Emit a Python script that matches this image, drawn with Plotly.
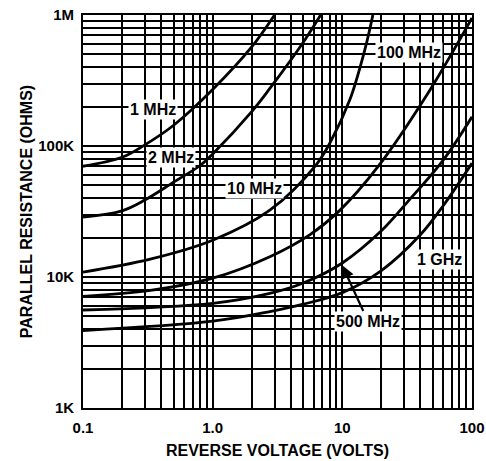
import plotly.graph_objects as go

# ---- data ----
v_1mhz = [0.1, 0.2, 0.3, 0.5, 1.0, 2.0, 3.0]
r_1mhz = [70e3, 82e3, 102e3, 144e3, 270e3, 570e3, 1000e3]

v_2mhz = [0.1, 0.2, 0.3, 0.5, 0.8, 1.0, 2.0, 2.76, 5.0, 6.8]
r_2mhz = [28.7e3, 32e3, 38.7e3, 53e3, 71e3, 87e3, 183e3, 275e3, 620e3, 1000e3]

v_10mhz = [0.1, 0.33, 1.0, 2.76, 6.26, 8.0, 11.4, 14.9, 17.2]
r_10mhz = [10.9e3, 13.7e3, 19.1e3, 32.4e3, 71.6e3, 105e3, 224e3, 541e3, 1000e3]

v_100mhz = [0.1, 0.33, 1.0, 2.76, 5.6, 9.6, 18.5, 47.3, 100]
r_100mhz = [7.1e3, 7.9e3, 9.8e3, 14.3e3, 21e3, 32.4e3, 68e3, 267e3, 950e3]

v_500mhz = [0.1, 1.0, 2.76, 5.0, 10.0, 20.0, 31.5, 60.0, 100]
r_500mhz = [5.6e3, 6.3e3, 7.5e3, 9.0e3, 12.8e3, 22.5e3, 37e3, 78e3, 167e3]

v_1ghz = [0.1, 1.0, 2.76, 5.0, 10.0, 20.0, 40.0, 60.0, 100]
r_1ghz = [3.9e3, 4.6e3, 5.45e3, 6.2e3, 7.6e3, 11.2e3, 21e3, 35e3, 74e3]

x_tickvals = [0.1, 1, 10, 100]
x_ticktext = ["0.1", "1.0", "10", "100"]
y_tickvals = [1e3, 1e4, 1e5, 1e6]
y_ticktext = ["1K", "10K", "100K", "1M"]

FONT = "Liberation Sans"

series = [
    ("1 MHz", v_1mhz, r_1mhz),
    ("2 MHz", v_2mhz, r_2mhz),
    ("10 MHz", v_10mhz, r_10mhz),
    ("100 MHz", v_100mhz, r_100mhz),
    ("500 MHz", v_500mhz, r_500mhz),
    ("1 GHz", v_1ghz, r_1ghz),
]

fig = go.Figure()
for name, v, r in series:
    fig.add_trace(go.Scatter(
        x=v, y=r, mode="lines", name=name,
        line=dict(color="black", width=2.8, shape="spline", smoothing=1.0),
        showlegend=False, cliponaxis=True,
    ))

lab_font = dict(family=FONT, size=16, color="black", weight="bold")

# curve labels (positions in log10 data units)
labels = [
    ("1 MHz", -0.460, 5.282),
    ("2 MHz", -0.318, 4.916),
    ("10 MHz", 0.326, 4.672),
    ("100 MHz", 1.513, 5.710),
    ("1 GHz", 1.753, 4.137),
]
for text, lx, ly in labels:
    fig.add_annotation(
        x=lx, y=ly, xref="x", yref="y", text=text, showarrow=False,
        font=lab_font, bgcolor="white", borderpad=1,
    )

fig.add_annotation(
    x=0.997, y=4.092, xref="x", yref="y",
    ax=1.197, ay=3.664, axref="x", ayref="y",
    text="500 MHz", showarrow=True,
    arrowhead=2, arrowsize=1.2, arrowwidth=2.2, arrowcolor="black",
    font=lab_font, bgcolor="white", borderpad=1,
)

grid = dict(showgrid=True, gridcolor="black", gridwidth=1.7)
minor = dict(dtick="D1", showgrid=True, gridcolor="black", gridwidth=1.7, ticks="")
tick_font = dict(family=FONT, size=15, color="black", weight="bold")
title_font = dict(family=FONT, size=16, color="black", weight="bold")

fig.update_xaxes(
    type="log", range=[-1, 2], automargin=False,
    tickmode="array", tickvals=x_tickvals, ticktext=x_ticktext,
    ticks="", minor=minor, zeroline=False,
    showline=True, mirror=True, linecolor="black", linewidth=1.8,
    tickfont=tick_font, ticklabelstandoff=5,
    title=dict(text="REVERSE VOLTAGE (VOLTS)", standoff=10, font=title_font),
    **grid,
)
fig.update_yaxes(
    type="log", range=[3, 6], automargin=False,
    tickmode="array", tickvals=y_tickvals, ticktext=y_ticktext,
    ticks="", minor=minor, zeroline=False,
    showline=True, mirror=True, linecolor="black", linewidth=1.8,
    tickfont=tick_font, ticklabelstandoff=4,
    title=dict(text="PARALLEL RESISTANCE (OHMS)", standoff=2, font=title_font),
    **grid,
)

fig.update_layout(
    width=486, height=461,
    margin=dict(l=83, r=14, t=15, b=53),
    paper_bgcolor="white", plot_bgcolor="white",
    font=dict(family=FONT, size=13, color="black"),
)

fig.write_html("out.html")
